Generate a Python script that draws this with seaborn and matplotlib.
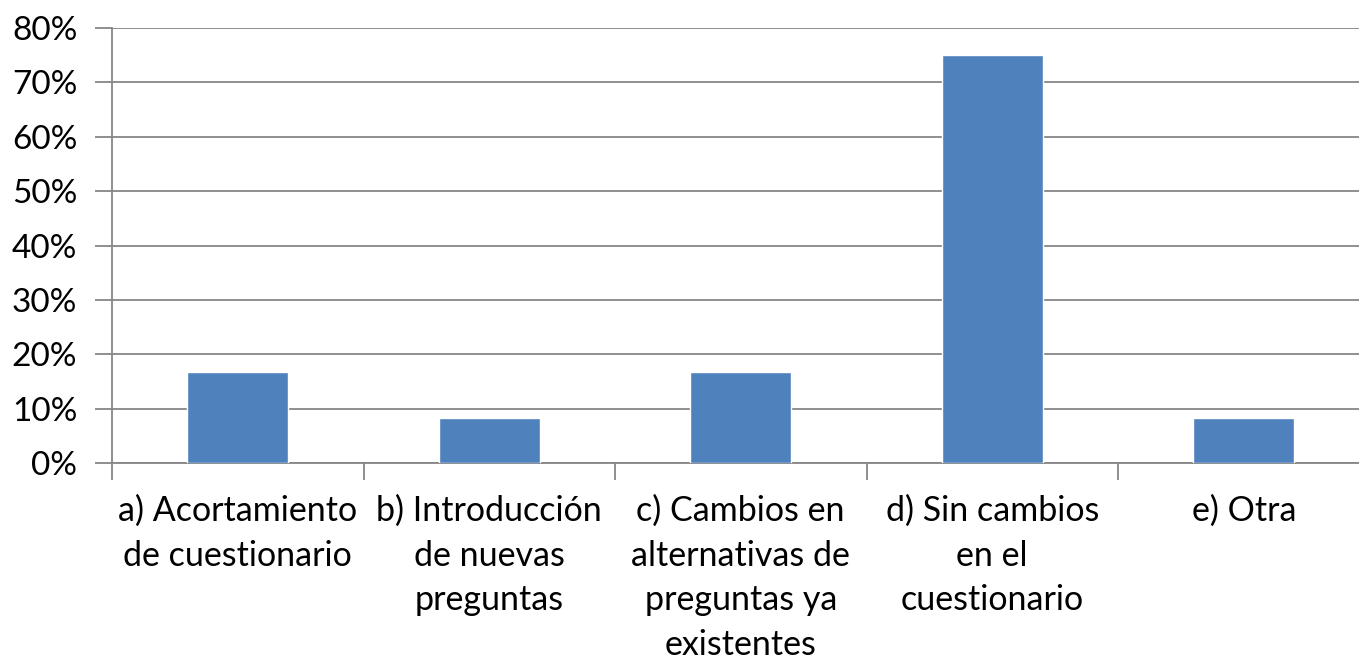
import matplotlib.pyplot as plt
import seaborn as sns
import numpy as np
from matplotlib.ticker import PercentFormatter, FixedLocator

# Data
categories = [
    "a) Acortamiento\nde cuestionario",
    "b) Introducción\nde nuevas\npreguntas",
    "c) Cambios en\nalternativas de\npreguntas ya\nexistentes",
    "d) Sin cambios\nen el\ncuestionario",
    "e) Otra",
]
shares = [16.67, 8.33, 16.67, 75.0, 8.33]

sns.set_style("white")
plt.rcParams["font.family"] = ["Lato", "DejaVu Sans"]

fig = plt.figure(figsize=(13.59, 6.62), dpi=100)
ax = fig.add_axes([112 / 1359, 1 - 463 / 662, 1257.5 / 1359, 435 / 662])

sns.barplot(x=categories, y=shares, color="#4F81BD", width=0.4,
            saturation=1, ax=ax, zorder=3)

grid_col = "#868686"
ax.set_ylim(0, 80)
ax.set_xlim(-0.5, 4.5)
ax.yaxis.set_major_locator(FixedLocator(np.arange(0, 81, 10)))
ax.yaxis.set_major_formatter(PercentFormatter(decimals=0))
ax.grid(axis="y", color=grid_col, linewidth=1.3, zorder=0)
ax.set_axisbelow(True)

for side in ["top", "right"]:
    ax.spines[side].set_visible(False)
for side in ["left", "bottom"]:
    ax.spines[side].set_color(grid_col)
    ax.spines[side].set_linewidth(1.3)

# category boundary ticks on the x axis
ax.xaxis.set_minor_locator(FixedLocator(np.arange(-0.5, 5, 1)))
ax.tick_params(axis="x", which="minor", length=12, width=1.3,
               color=grid_col, direction="out", bottom=True)
ax.tick_params(axis="x", which="major", length=0, pad=23,
               labelsize=24.5, colors="black")
ax.tick_params(axis="y", which="major", length=12, width=1.3,
               color=grid_col, direction="out", left=True, pad=13,
               labelsize=24, labelcolor="black")
for lbl in ax.get_xticklabels():
    lbl.set_linespacing(1.48)
    lbl.set_verticalalignment("top")

fig.savefig("out.png", dpi=100)
